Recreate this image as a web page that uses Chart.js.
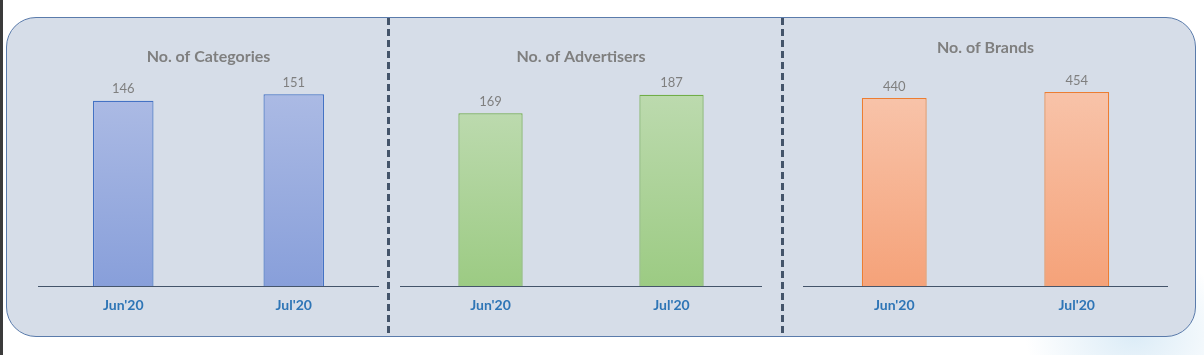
<!DOCTYPE html>
<html>
<head>
<meta charset="utf-8">
<script src="https://cdn.jsdelivr.net/npm/chart.js@4.4.0/dist/chart.umd.min.js"></script>
<style>
  html, body { margin: 0; padding: 0; background: #fff; }
  #page { position: relative; width: 1204px; height: 355px; overflow: hidden; background: #fff; }
  #edge { position: absolute; left: 0; top: 0; width: 3px; height: 355px; background: #3b3b3b; }
  #glow { position: absolute; right: -40px; bottom: -60px; width: 220px; height: 160px;
    background: radial-gradient(ellipse at center, rgba(190,220,240,0.55), rgba(255,255,255,0) 70%); }
  #panel { position: absolute; left: 6px; top: 17px; width: 1188px; height: 318px;
    background: #d6dde8; border: 1.5px solid #5a7bab; border-radius: 30px; }
  .sep { position: absolute; top: 18px; width: 3px; height: 318px;
    background: repeating-linear-gradient(to bottom, #44546a 0 7px, transparent 7px 11px); }
  .box { position: absolute; top: 0; height: 333px; }
</style>
</head>
<body>
<div id="page">
  <div id="glow"></div>
  <div id="edge"></div>
  <div id="panel"></div>
  <div class="sep" style="left:387px"></div>
  <div class="sep" style="left:781px"></div>
  <div class="box" style="left:38px;width:341px"><canvas id="chart-categories"></canvas></div>
  <div class="box" style="left:400px;width:362px"><canvas id="chart-advertisers"></canvas></div>
  <div class="box" style="left:803px;width:365px"><canvas id="chart-brands"></canvas></div>
</div>
<script>
const months = ["Jun'20", "Jul'20"];
const categories = [146, 151];
const advertisers = [169, 187];
const brands = [440, 454];

const valueLabels = {
  id: "valueLabels",
  afterDatasetsDraw(chart) {
    const { ctx } = chart;
    ctx.save();
    ctx.font = "13px Lato";
    ctx.fillStyle = "#7f7f7f";
    ctx.textAlign = "center";
    ctx.textBaseline = "bottom";
    chart.getDatasetMeta(0).data.forEach((bar, i) => {
      ctx.fillText(chart.data.datasets[0].data[i], bar.x, bar.y - 5);
    });
    ctx.restore();
  },
};

function barGradient(top, bottom) {
  return (context) => {
    const chart = context.chart;
    const y = chart.scales && chart.scales.y;
    if (!y || !chart.chartArea) return bottom;
    const v = context.raw;
    const g = chart.ctx.createLinearGradient(0, y.getPixelForValue(v), 0, y.getPixelForValue(0));
    g.addColorStop(0, top);
    g.addColorStop(1, bottom);
    return g;
  };
}

function makeChart(id, title, values, max, colors, titlePad) {
  return new Chart(document.getElementById(id), {
    type: "bar",
    data: {
      labels: months,
      datasets: [
        {
          data: values,
          backgroundColor: barGradient(colors.top, colors.bottom),
          borderColor: colors.border,
          borderWidth: 1.2,
          borderSkipped: "bottom",
          barPercentage: 0.355,
          categoryPercentage: 1,
        },
      ],
    },
    options: {
      responsive: true,
      maintainAspectRatio: false,
      animation: false,
      layout: { padding: { top: 0, bottom: 8, left: 0, right: 0 } },
      plugins: {
        legend: { display: false },
        tooltip: { enabled: false },
        title: {
          display: true,
          text: title,
          color: "#7f7f7f",
          font: { family: "Lato", size: 16, weight: "bold" },
          padding: titlePad,
        },
      },
      scales: {
        x: {
          grid: { display: false, drawTicks: false },
          border: { display: true, color: "#44546a", width: 1 },
          ticks: { color: "#2e75b6", font: { family: "Lato", size: 14, weight: "bold" }, padding: 11 },
        },
        y: { display: false, min: 0, max },
      },
    },
    plugins: [valueLabels],
  });
}

makeChart("chart-categories", "No. of Categories", categories, 170,
  { top: "#abbae4", bottom: "#889fda", border: "#4472c4" }, { top: 47, bottom: 4 });
makeChart("chart-advertisers", "No. of Advertisers", advertisers, 211,
  { top: "#bcdaae", bottom: "#9ccb83", border: "#70ad47" }, { top: 47, bottom: 4 });
makeChart("chart-brands", "No. of Brands", brands, 505,
  { top: "#f8c3a9", bottom: "#f5a279", border: "#ed7d31" }, { top: 38, bottom: 13 });
</script>
</body>
</html>
